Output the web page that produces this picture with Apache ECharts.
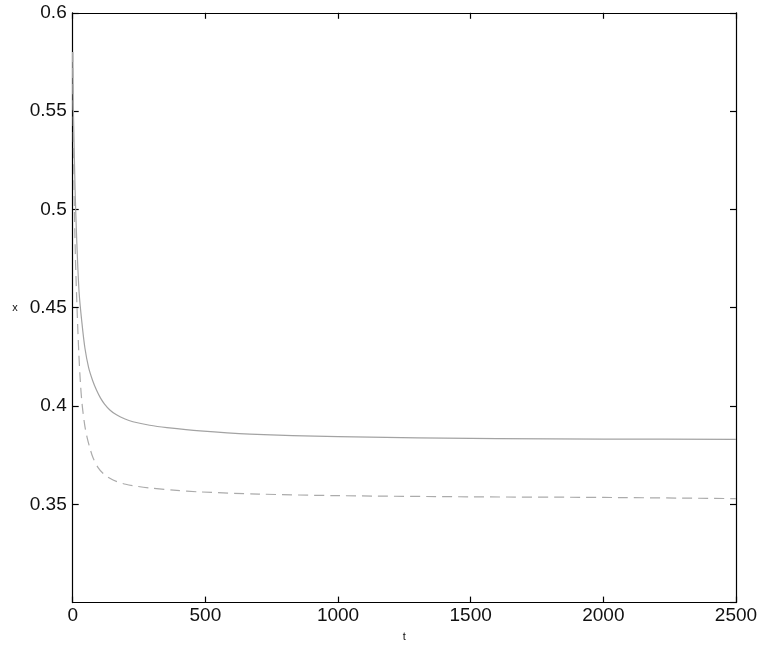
<!DOCTYPE html>
<html>
<head>
<meta charset="utf-8">
<script src="https://cdn.jsdelivr.net/npm/echarts@6/dist/echarts.min.js"></script>
<style>html,body{margin:0;padding:0;background:#fff;}#c{width:763px;height:649px;}</style>
</head>
<body>
<div id="c"></div>
<script>
// x-axis tick values and y-axis tick values
const xTicks = [0, 500, 1000, 1500, 2000, 2500];
const yTicks = [0.3, 0.35, 0.4, 0.45, 0.5, 0.55, 0.6];

// solid curve
const tSolid = [0, 2, 5, 9, 15, 24, 35, 46, 60, 75, 90, 105, 120, 140, 165, 195, 227, 290, 355, 480, 668, 1000, 1600, 2000, 2500];
const xSolid = [0.58, 0.555, 0.535, 0.51, 0.485, 0.458, 0.442, 0.4295, 0.4195, 0.413, 0.408, 0.404, 0.401, 0.398, 0.3955, 0.3935, 0.392, 0.3902, 0.389, 0.3873, 0.3857, 0.3844, 0.3834, 0.3832, 0.3830];

// dashed curve
const tDashed = [0, 2, 5, 10, 16, 23, 29, 35, 45, 54, 65, 77, 95, 114, 140, 167, 200, 240, 291, 380, 480, 700, 1000, 1500, 2000, 2500];
const xDashed = [0.58, 0.545, 0.51, 0.477, 0.451, 0.427, 0.412, 0.4015, 0.3905, 0.3842, 0.3785, 0.3735, 0.3688, 0.3658, 0.3632, 0.3615, 0.3602, 0.3592, 0.3583, 0.3572, 0.3563, 0.3552, 0.3544, 0.3538, 0.3535, 0.3529];

const font = "'Liberation Sans', Arial, sans-serif";
const pairs = (a, b) => a.map((v, i) => [v, b[i]]);

const xMin = xTicks[0], xMax = xTicks[xTicks.length - 1], xInt = xTicks[1] - xTicks[0];
const yMin = yTicks[0], yMax = yTicks[yTicks.length - 1], yInt = +(yTicks[1] - yTicks[0]).toFixed(4);

const axisLine = { show: true, onZero: false, lineStyle: { color: '#000', width: 1.2 } };
const tick = { show: true, inside: true, length: 6, lineStyle: { color: '#000', width: 1.2 } };
const plain = v => String(+v.toFixed(4));

const chart = echarts.init(document.getElementById('c'), null, { renderer: 'canvas' });
chart.setOption({
  backgroundColor: '#fff',
  animation: false,
  grid: { left: 72.7, right: 27, top: 12.8, bottom: 46.4, containLabel: false },
  xAxis: [{
    type: 'value', position: 'bottom', min: xMin, max: xMax, interval: xInt,
    name: 't', nameLocation: 'middle', nameGap: 29,
    nameTextStyle: { fontFamily: font, fontSize: 11, color: '#111' },
    axisLine: axisLine, axisTick: tick, splitLine: { show: false },
    axisLabel: { fontFamily: font, fontSize: 19, color: '#111', margin: 4, formatter: plain }
  }, {
    type: 'value', position: 'top', min: xMin, max: xMax, interval: xInt,
    axisLine: axisLine, axisTick: tick, splitLine: { show: false },
    axisLabel: { show: false }
  }],
  yAxis: [{
    type: 'value', position: 'left', min: yMin, max: yMax, interval: yInt,
    name: 'x', nameLocation: 'middle', nameGap: 55, nameRotate: 0,
    nameTextStyle: { fontFamily: font, fontSize: 11, color: '#111' },
    axisLine: axisLine, axisTick: tick, splitLine: { show: false },
    axisLabel: { fontFamily: font, fontSize: 19, color: '#111', margin: 6, showMinLabel: false, formatter: plain }
  }, {
    type: 'value', position: 'right', min: yMin, max: yMax, interval: yInt,
    axisLine: axisLine, axisTick: tick, splitLine: { show: false },
    axisLabel: { show: false }
  }],
  series: [{
    type: 'line', xAxisIndex: 0, yAxisIndex: 0, data: pairs(tSolid, xSolid),
    showSymbol: false, smooth: 0.3,
    lineStyle: { color: '#a3a3a3', width: 1.2, type: 'solid' }
  }, {
    type: 'line', xAxisIndex: 0, yAxisIndex: 0, data: pairs(tDashed, xDashed),
    showSymbol: false, smooth: 0.3,
    lineStyle: { color: '#ababab', width: 1.2, type: [10, 6] }
  }]
});
</script>
</body>
</html>
